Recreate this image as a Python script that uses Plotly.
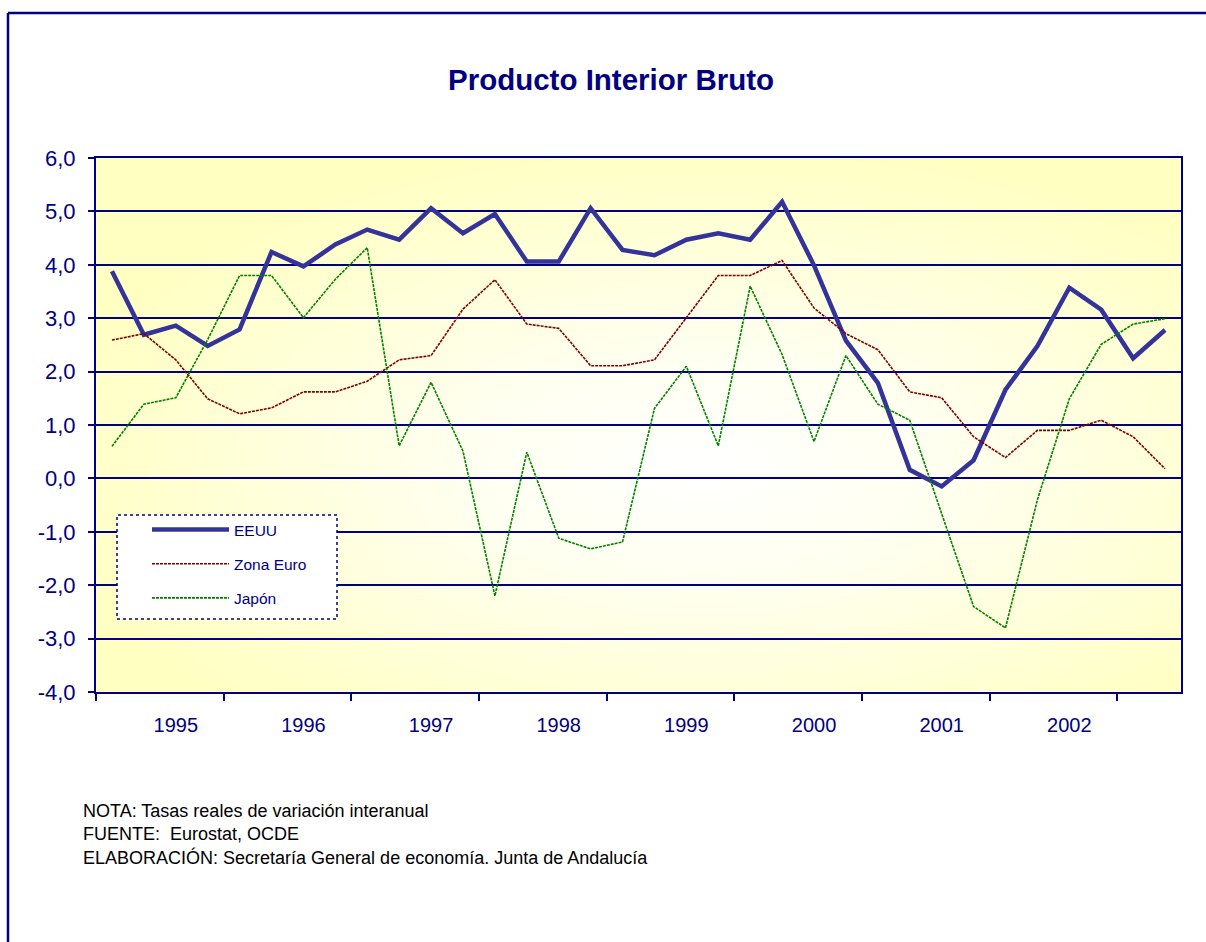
import base64
import plotly.graph_objects as go

# ---- data -------------------------------------------------------------
quarters = ["III-94", "IV-94",
            "I-95", "II-95", "III-95", "IV-95",
            "I-96", "II-96", "III-96", "IV-96",
            "I-97", "II-97", "III-97", "IV-97",
            "I-98", "II-98", "III-98", "IV-98",
            "I-99", "II-99", "III-99", "IV-99",
            "I-00", "II-00", "III-00", "IV-00",
            "I-01", "II-01", "III-01", "IV-01",
            "I-02", "II-02", "III-02", "IV-02"]

eeuu = [3.88, 2.69, 2.86, 2.48, 2.79, 4.24, 3.97, 4.38, 4.66, 4.47,
        5.06, 4.59, 4.95, 4.06, 4.06, 5.06, 4.28, 4.18, 4.47, 4.59,
        4.47, 5.18, 3.99, 2.58, 1.79, 0.16, -0.15, 0.34, 1.66, 2.48,
        3.57, 3.16, 2.25, 2.78]

zona_euro = [2.59, 2.71, 2.22, 1.49, 1.21, 1.32, 1.62, 1.62, 1.82, 2.22,
             2.30, 3.17, 3.72, 2.89, 2.81, 2.11, 2.11, 2.22, 3.01, 3.80,
             3.80, 4.08, 3.19, 2.71, 2.41, 1.62, 1.51, 0.78, 0.39, 0.90,
             0.90, 1.09, 0.78, 0.18]

japon = [0.60, 1.39, 1.51, 2.60, 3.80, 3.80, 3.01, 3.73, 4.32, 0.61,
         1.80, 0.51, -2.20, 0.49, -1.12, -1.32, -1.19, 1.31, 2.10, 0.61,
         3.60, 2.32, 0.69, 2.30, 1.39, 1.09, -0.66, -2.40, -2.80, -0.40,
         1.49, 2.51, 2.89, 2.99]

year_labels = ["1995", "1996", "1997", "1998", "1999", "2000", "2001", "2002"]
y_ticks = [-4, -3, -2, -1, 0, 1, 2, 3, 4, 5, 6]
y_tick_labels = ["-4,0", "-3,0", "-2,0", "-1,0", "0,0", "1,0", "2,0",
                 "3,0", "4,0", "5,0", "6,0"]

notes = ["NOTA: Tasas reales de variación interanual",
         "FUENTE:  Eurostat, OCDE",
         "ELABORACIÓN: Secretaría General de economía. Junta de Andalucía"]

# ---- styling ----------------------------------------------------------
NAVY = "#000080"
FONT = "Liberation Sans, Arial, sans-serif"

x_idx = list(range(len(quarters)))
first_label = quarters.index("I-95")
year_tickvals = [first_label + 4 * k for k in range(len(year_labels))]
minor_ticks = [v - 2.5 for v in year_tickvals] + [year_tickvals[-1] + 1.5]

fig = go.Figure()

fig.add_trace(go.Scatter(
    x=x_idx, y=eeuu, name="EEUU", mode="lines", text=quarters,
    line=dict(color="#333399", width=4.5), legendgroup="a"))
fig.add_trace(go.Scatter(
    x=x_idx, y=zona_euro, name="Zona Euro", mode="lines", text=quarters,
    line=dict(color="#800000", width=1.6, dash="3px,1px"), legendgroup="b"))
fig.add_trace(go.Scatter(
    x=x_idx, y=japon, name="Japón", mode="lines", text=quarters,
    line=dict(color="#008000", width=1.6, dash="3px,1px"), legendgroup="c"))

# radial gradient background of the plot area (image in paper coords)
svg = ('<svg xmlns="http://www.w3.org/2000/svg" width="1085" height="534" '
       'preserveAspectRatio="none" viewBox="0 0 1085 534">'
       '<defs><radialGradient id="g" cx="0.56" cy="0.58" r="0.62">'
       '<stop offset="0" stop-color="#FFFFFF"/>'
       '<stop offset="0.35" stop-color="#FFFFF0"/>'
       '<stop offset="1" stop-color="#FFFFC2"/>'
       '</radialGradient></defs>'
       '<rect x="0" y="0" width="1085" height="534" fill="url(#g)"/></svg>')
src = "data:image/svg+xml;base64," + base64.b64encode(svg.encode()).decode()
fig.add_layout_image(dict(source=src, xref="paper", yref="paper", x=0, y=1,
                          sizex=1, sizey=1, sizing="stretch",
                          xanchor="left", yanchor="top", layer="below"))

fig.update_layout(
    width=1206, height=942,
    margin=dict(l=96, r=25, t=158, b=250),
    paper_bgcolor="white",
    plot_bgcolor="rgba(0,0,0,0)",
    font=dict(family=FONT, color=NAVY),
    title=dict(text="<b>Producto Interior Bruto</b>",
               font=dict(size=29.5, color=NAVY, family=FONT),
               x=0.4747, xref="paper", xanchor="center",
               y=1 - 80 / 942, yref="container", yanchor="middle"),
    showlegend=True,
    legend=dict(x=(147 - 96) / 1085, y=(692 - 513) / 534,
                xanchor="left", yanchor="top",
                bgcolor="rgba(0,0,0,0)", borderwidth=0,
                font=dict(size=15.5, color=NAVY, family=FONT),
                itemwidth=77, tracegroupgap=11, traceorder="grouped"),
    hovermode=False,
)

fig.update_xaxes(
    range=[-0.5, len(quarters) - 0.5],
    tickmode="array", tickvals=year_tickvals, ticktext=year_labels,
    ticks="", ticklabelstandoff=14,
    tickfont=dict(size=20, color=NAVY, family=FONT),
    showgrid=False, zeroline=False,
    showline=True, linecolor=NAVY, linewidth=2, mirror=True,
    minor=dict(tickmode="array", tickvals=minor_ticks, ticks="outside",
               ticklen=7, tickwidth=2, tickcolor=NAVY, showgrid=False),
)

fig.update_yaxes(
    range=[-4, 6],
    tickmode="array", tickvals=y_ticks, ticktext=y_tick_labels,
    ticks="outside", ticklen=6, tickwidth=2, tickcolor=NAVY,
    ticklabelstandoff=8,
    tickfont=dict(size=22, color=NAVY, family=FONT),
    showgrid=True, gridcolor=NAVY, gridwidth=1.6,
    zeroline=False,
    showline=True, linecolor=NAVY, linewidth=2, mirror=True,
)

# legend frame (dotted), outer chart frame
fig.add_shape(type="rect", xref="paper", yref="paper",
              x0=(117 - 96) / 1085, x1=(337 - 96) / 1085,
              y0=(692 - 619) / 534, y1=(692 - 515) / 534,
              line=dict(color=NAVY, width=1.5, dash="dot"),
              fillcolor="white", layer="above")
fig.add_shape(type="line", xref="paper", yref="paper",
              x0=(8 - 96) / 1085, x1=1.1, y0=(692 - 13) / 534, y1=(692 - 13) / 534,
              line=dict(color=NAVY, width=2.5))
fig.add_shape(type="line", xref="paper", yref="paper",
              x0=(8 - 96) / 1085, x1=(8 - 96) / 1085, y0=(692 - 13) / 534, y1=-0.6,
              line=dict(color=NAVY, width=2.5))

fig.add_annotation(text="<br>".join(notes), xref="paper", yref="paper",
                   x=(81 - 96) / 1085, y=(692 - 834) / 534,
                   xanchor="left", yanchor="middle", align="left",
                   showarrow=False,
                   font=dict(size=18, color="black", family=FONT))

fig.write_html("out.html", config={"displayModeBar": False},
               post_script="document.body.style.margin='0';")
